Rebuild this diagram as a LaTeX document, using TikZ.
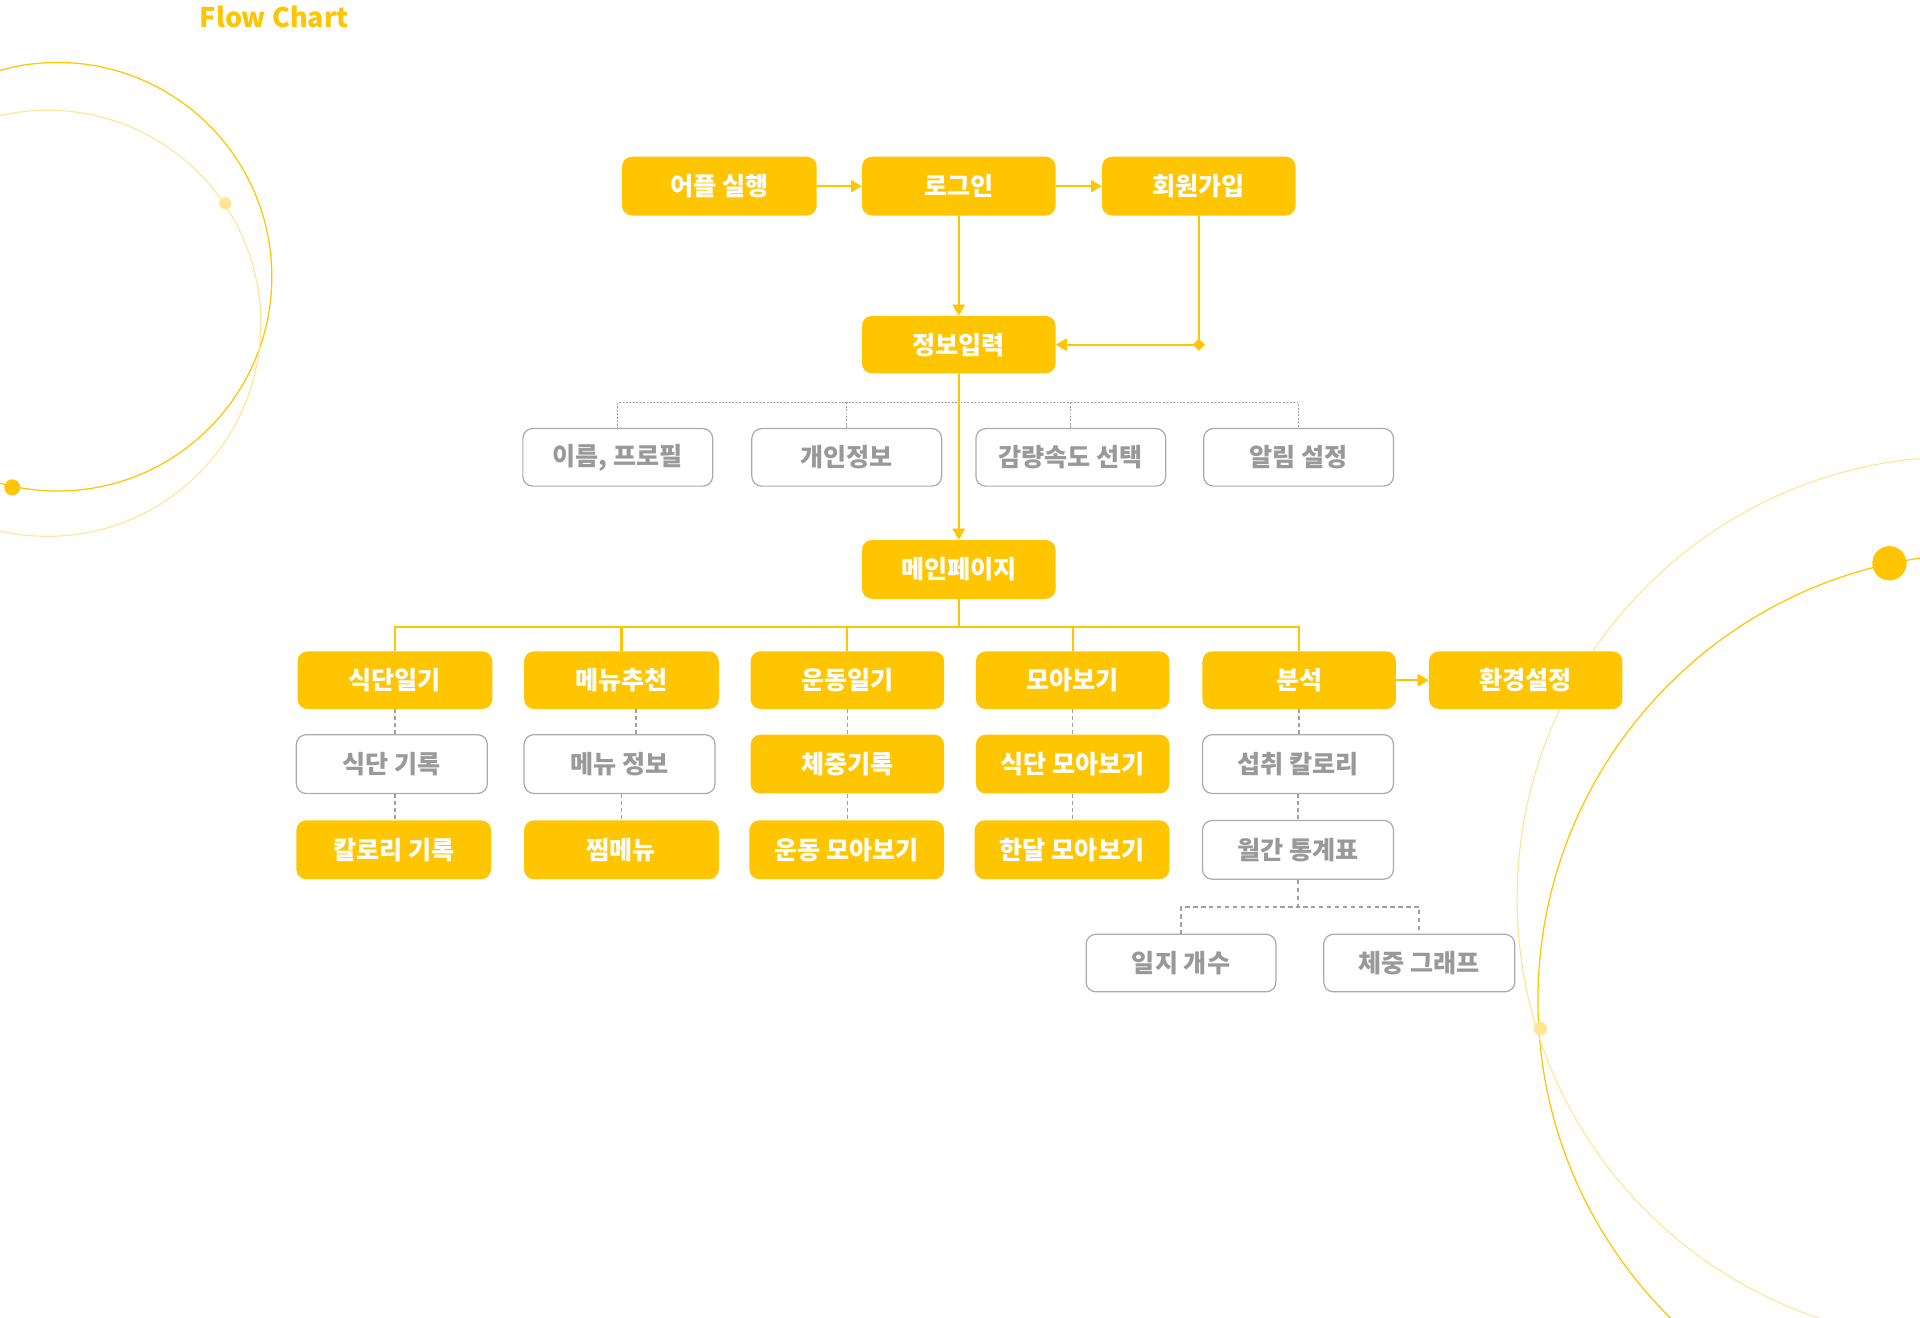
\documentclass[tikz,border=0pt]{standalone}
\usepackage{fontspec}
\setmainfont{Noto Sans CJK KR}
\usetikzlibrary{arrows.meta,shapes.geometric,calc}
\definecolor{ylw}{HTML}{FFC500}
\definecolor{ylwpale}{HTML}{FFE594}
\definecolor{gtxt}{HTML}{999999}
\definecolor{gbrd}{HTML}{ABABAB}
\definecolor{gdash}{HTML}{A0A0A0}
\begin{document}
\begin{tikzpicture}[x=1pt,y=-1pt,
  boxfont/.style={font=\fontsize{20.5}{22}\selectfont\bfseries},
  ybox/.style={rectangle, rounded corners=8pt, fill=ylw, text=white, boxfont,
    minimum height=48pt, minimum width=158pt, inner sep=0pt},
  gbox/.style={rectangle, rounded corners=8pt, draw=gbrd, line width=1pt, fill=white,
    text=gtxt, boxfont, minimum height=47pt, minimum width=155pt, inner sep=0pt},
  flow/.style={draw=ylw, line width=1.8pt},
  arr/.style={flow, -{Triangle[length=9pt,width=10pt]}},
  infodot/.style={draw=gdash, line width=0.7pt, dash pattern=on 1.6pt off 1.2pt},
  subdash/.style={draw=gdash, line width=1.3pt, dash pattern=on 3.3pt off 2.4pt},
  splitdash/.style={draw=gdash, line width=1.3pt, dash pattern=on 3.8pt off 2.7pt},
]
\useasboundingbox (0,0) rectangle (1568,1076);
\fill[white] (0,0) rectangle (1568,1076);

% decorative orbits
\begin{scope}
\clip (0,0) rectangle (1568,1076);
\draw[ylw, line width=1pt] (47,226) circle[radius=175];
\draw[ylwpale, line width=0.9pt] (39,264) circle[radius=174];
\fill[ylw] (10,398) circle[radius=6.5];
\fill[ylwpale] (184,166) circle[radius=5];
\draw[ylw, line width=1pt] (1621,817) circle[radius=365];
\draw[ylwpale, line width=0.9pt] (1600,734) circle[radius=361];
\fill[ylw] (1543,460) circle[radius=14];
\fill[ylwpale] (1258,840) circle[radius=5.5];
\end{scope}

% title
\node[anchor=base west, text=ylw, font=\fontsize{22}{26}\selectfont\bfseries, inner sep=0pt] (title) at (163,22.4) {Flow Chart};

% nodes
\node[ybox, minimum width=159pt] (app) at (587.5,152) {어플 실행};
\node[ybox] (login) at (783,152) {로그인};
\node[ybox] (join) at (979,152) {회원가입};
\node[ybox, minimum height=47pt] (info) at (783,281.5) {정보입력};

\node[gbox] (name) at (504.5,373.5) {이름, 프로필};
\node[gbox] (pinfo) at (691.5,373.5) {개인정보};
\node[gbox] (speed) at (874.5,373.5) {감량속도 선택};
\node[gbox] (alarm) at (1060.5,373.5) {알림 설정};

\node[ybox] (mainp) at (783,465) {메인페이지};

\node[ybox, minimum width=159pt, minimum height=47pt] (diet) at (322.5,555.5) {식단일기};
\node[ybox, minimum width=159pt, minimum height=47pt] (menu) at (507.5,555.5) {메뉴추천};
\node[ybox, minimum height=47pt] (exer) at (692,555.5) {운동일기};
\node[ybox, minimum height=47pt] (coll) at (876,555.5) {모아보기};
\node[ybox, minimum height=47pt] (anal) at (1061,555.5) {분석};
\node[ybox, minimum height=47pt] (sett) at (1246,555.5) {환경설정};

\node[gbox, minimum width=156pt, minimum height=48pt] (dietrec) at (320,624) {식단 기록};
\node[gbox, minimum width=156pt, minimum height=48pt] (menuinfo) at (506,624) {메뉴 정보};
\node[ybox] (weight) at (692,624) {체중기록};
\node[ybox] (dietcoll) at (876,624) {식단 모아보기};
\node[gbox, minimum width=156pt, minimum height=48pt] (intake) at (1060,624) {섭취 칼로리};

\node[ybox, minimum width=159pt] (calrec) at (321.5,694) {칼로리 기록};
\node[ybox, minimum width=159pt] (fav) at (507.5,694) {찜메뉴};
\node[ybox, minimum width=159pt] (exercoll) at (691.5,694) {운동 모아보기};
\node[ybox, minimum width=159pt] (monthcoll) at (875.5,694) {한달 모아보기};
\node[gbox, minimum width=156pt, minimum height=48pt] (monthly) at (1060,694) {월간 통계표};

\node[gbox] (logcnt) at (964.5,786.5) {일지 개수};
\node[gbox, minimum width=156pt] (wgraph) at (1159,786.5) {체중 그래프};

% bus coordinates
\coordinate (ibus) at (783,329);
\coordinate (mbus) at (783,512);
\coordinate (sbus) at (1062,740.5);

% info sub-items (dotted)
\foreach \n in {name,pinfo,speed,alarm}
  \draw[infodot] (info.south) -- (info.south |- ibus) -| (\n.north);

% main flow
\draw[arr] (app) -- (login);
\draw[arr] (login) -- (join);
\draw[arr] (login) -- (info);
\draw[arr] (join.south) |- (info.east);
\node[diamond, fill=ylw, inner sep=0pt, minimum size=10pt] (jdot) at (join.south |- info.east) {};
\draw[arr] (info) -- (mainp);
\foreach \n in {diet,menu,exer,coll,anal}
  \draw[flow] (mainp.south) -- (mainp.south |- mbus) -| (\n.north);
\draw[arr] (anal) -- (sett);

% sub connectors (dashed)
\draw[subdash] (diet.south) -- (diet.south |- dietrec.north);
\draw[subdash] (dietrec.south -| diet.south) -- (diet.south |- calrec.north);
\draw[subdash] ([xshift=12pt]menu.south) -- ([xshift=12pt]menu.south |- menuinfo.north);
\draw[subdash] (fav.north |- menuinfo.south) -- (fav.north);
\draw[subdash] (exer) -- (weight);
\draw[subdash] (weight.south) -- (weight.south |- exercoll.north);
\draw[subdash] (coll) -- (dietcoll);
\draw[subdash] (dietcoll.south) -- (dietcoll.south |- monthcoll.north);
\draw[subdash] (anal.south) -- (anal.south |- intake.north);
\draw[subdash] (intake) -- (monthly);
\foreach \n in {logcnt,wgraph}
  \draw[splitdash] (monthly.south) -- (monthly.south |- sbus) -| (\n.north);
\end{tikzpicture}
\end{document}
